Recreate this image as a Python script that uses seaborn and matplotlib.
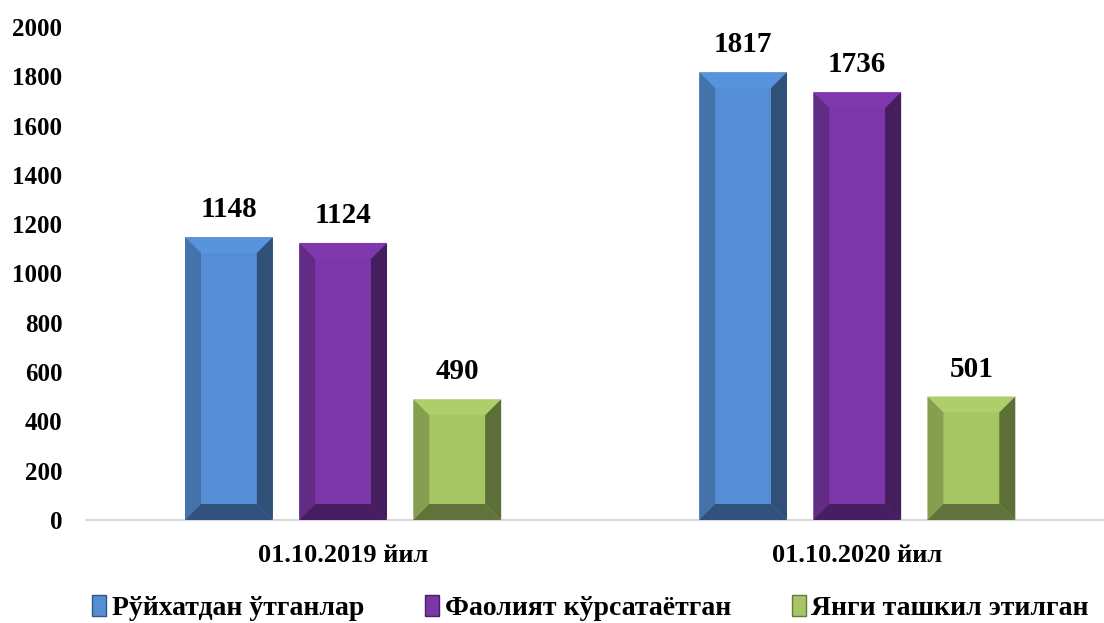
import numpy as np
import pandas as pd
import seaborn as sns
import matplotlib.pyplot as plt
from matplotlib.patches import Polygon, Patch
from matplotlib.colors import to_rgb

# data
dates = ["01.10.2019 йил", "01.10.2020 йил"]
series = ["Рўйхатдан ўтганлар", "Фаолият кўрсатаётган", "Янги ташкил этилган"]
registered = [1148, 1817]
active = [1124, 1736]
new = [490, 501]

colors = ["#558ed5", "#7b36a8", "#a6c664"]

df = pd.DataFrame({
    "date": dates * 3,
    "series": [series[0]] * 2 + [series[1]] * 2 + [series[2]] * 2,
    "value": registered + active + new,
})

sns.set_style("white")
plt.rcParams['font.family'] = ['Liberation Serif', 'DejaVu Serif']
plt.rcParams['font.weight'] = 'bold'
plt.rcParams['text.color'] = 'black'
plt.rcParams['xtick.color'] = 'black'
plt.rcParams['ytick.color'] = 'black'

fig = plt.figure(figsize=(11.04, 6.23), dpi=100)
ax = fig.add_axes([86 / 1104, 103 / 623, 1018 / 1104, 493 / 623])

sns.barplot(data=df, x="date", y="value", hue="series", palette=colors,
            width=0.666, gap=0.23, ax=ax, legend=False, saturation=1)

ax.set_ylim(0, 2000)
ax.set_xlim(-0.5, 1.48)
ax.set_yticks(range(0, 2001, 200))
ax.set_xlabel("")
ax.set_ylabel("")
ax.tick_params(axis="y", labelsize=18, length=0, pad=17)
ax.tick_params(axis="x", labelsize=19, length=0, pad=17)
for lbl in ax.get_yticklabels() + ax.get_xticklabels():
    lbl.set_fontweight("bold")
sns.despine(ax=ax, left=True)
ax.spines["bottom"].set_color("#d9d9d9")
ax.spines["bottom"].set_linewidth(1.5)

for c in ax.containers:
    ax.bar_label(c, fmt="%d", padding=10, fontsize=21, fontweight="bold", color="black")


def shade(col, f):
    r, g, b = to_rgb(col)
    return (r * f, g * f, b * f)


# bevel effect drawn from the bars' own positions
fig.canvas.draw()
inv = ax.transData.inverted()
bev = 16
for c, col in zip(ax.containers, colors):
    for p in c.patches:
        bb = p.get_window_extent()
        x0, y0, x1, y1 = bb.x0, bb.y0, bb.x1, bb.y1
        sides = [
            ([(x0, y1), (x1, y1), (x1 - bev, y1 - bev), (x0 + bev, y1 - bev)], 1.04),
            ([(x0, y0), (x0, y1), (x0 + bev, y1 - bev), (x0 + bev, y0 + bev)], 0.80),
            ([(x1, y0), (x1, y1), (x1 - bev, y1 - bev), (x1 - bev, y0 + bev)], 0.56),
            ([(x0, y0), (x1, y0), (x1 - bev, y0 + bev), (x0 + bev, y0 + bev)], 0.58),
        ]
        for pts, f in sides:
            fc = tuple(min(1, v) for v in shade(col, f))
            ax.add_patch(Polygon(inv.transform(np.array(pts)), closed=True,
                                 facecolor=fc, edgecolor="none", zorder=3))

handles = [Patch(facecolor=col, edgecolor=shade(col, 0.6)) for col in colors]
fig.legend(handles, series, loc="center", bbox_to_anchor=(0.535, 0.024),
           ncol=3, frameon=False, prop={"size": 20, "weight": "bold"},
           handlelength=0.5, handleheight=0.8, handletextpad=0.2, columnspacing=2.2)

fig.savefig("out.png", dpi=100)
